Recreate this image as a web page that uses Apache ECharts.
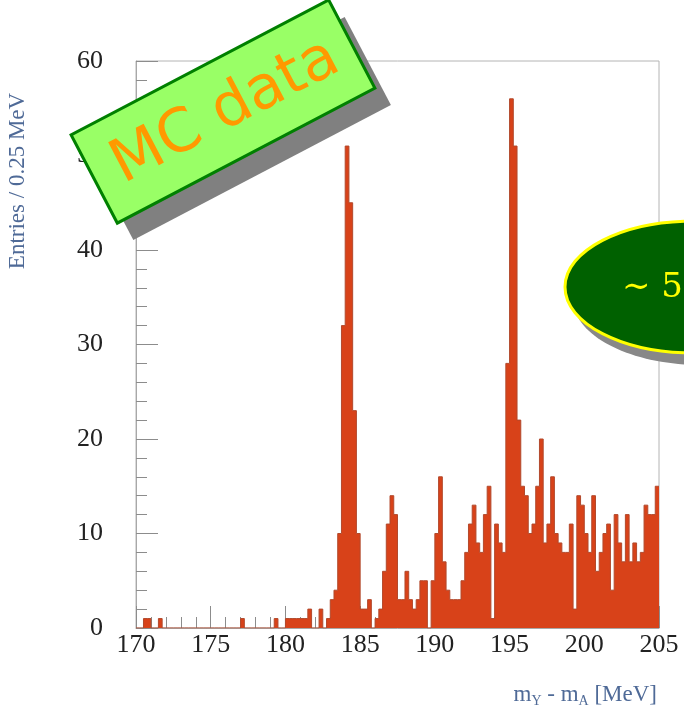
<!DOCTYPE html>
<html><head><meta charset="utf-8">
<script src="https://cdn.jsdelivr.net/npm/echarts@6/dist/echarts.min.js"></script>
<style>html,body{margin:0;padding:0;background:#fff}#c{width:684px;height:719px}</style>
</head><body><div id="c"></div>
<script>
// Histogram: m_Y - m_A, 0.25 MeV bins from 170 to 205 MeV
const binStart = 170;
const binWidth = 0.25;
const counts = [
  0,0,1,1,0,0,1,0,0,0,            // 170.00 - 172.25
  0,0,0,0,0,0,0,0,0,0,            // 172.50 - 174.75
  0,0,0,0,0,0,0,0,1,0,            // 175.00 - 177.25
  0,0,0,0,0,0,0,1,0,0,            // 177.50 - 179.75
  1,1,1,1,1,1,2,0,0,2,            // 180.00 - 182.25
  0,1,3,4,10,32,51,45,23,10,      // 182.50 - 184.75
  2,2,3,0,1,2,6,11,14,12,         // 185.00 - 187.25
  3,3,6,3,2,3,5,5,0,5,            // 187.50 - 189.75
  10,16,7,4,3,3,3,5,8,11,         // 190.00 - 192.25
  13,9,8,12,15,1,11,9,8,28,       // 192.50 - 194.75
  56,51,22,15,14,10,11,15,20,9,   // 195.00 - 197.25
  11,16,10,9,8,8,11,2,14,13,      // 197.50 - 199.75
  10,8,14,6,8,10,11,4,12,9,       // 200.00 - 202.25
  7,12,7,9,7,8,13,12,12,15        // 202.50 - 204.75
];
const xTickValues = [170,175,180,185,190,195,200,205];
const yTickValues = [0,10,20,30,40,50,60];
const yTitle = 'Entries / 0.25 MeV';
const mcLabel = 'MC data';
const ovalLabel = '\u223C 5';

// step points at the low edge of every bin plus the closing edge
const stepData = counts.map((c, i) => [binStart + i * binWidth, c]);
stepData.push([binStart + counts.length * binWidth, counts[counts.length - 1]]);

const serif = "'Liberation Serif','DejaVu Serif',serif";
const chart = echarts.init(document.getElementById('c'), null, {renderer: 'canvas'});
const deg = Math.PI / 180;
const boxShape = {x: -145.4, y: -49.8, width: 290.8, height: 99.6};

chart.setOption({
  animation: false,
  backgroundColor: '#fff',
  grid: {left: 136, right: 25, top: 61, bottom: 91, show: true, borderColor: '#b4b4b4', borderWidth: 1, backgroundColor: 'transparent'},
  xAxis: {
    type: 'value', min: xTickValues[0], max: xTickValues[xTickValues.length - 1], interval: 5,
    axisLine: {show: true, onZero: false, lineStyle: {color: '#a8a8a8', width: 1}},
    axisTick: {show: true, inside: true, length: 22, lineStyle: {color: '#8c8c8c'}},
    minorTick: {show: true, splitNumber: 5, length: 11, lineStyle: {color: '#8c8c8c'}},
    splitLine: {show: false},
    axisLabel: {fontFamily: serif, fontSize: 26, color: '#222', margin: 4}
  },
  yAxis: {
    type: 'value', min: yTickValues[0], max: yTickValues[yTickValues.length - 1], interval: 10,
    axisLine: {show: true, lineStyle: {color: '#a8a8a8', width: 1}},
    axisTick: {show: true, inside: true, length: 22, lineStyle: {color: '#8c8c8c'}},
    minorTick: {show: true, splitNumber: 5, length: 11, lineStyle: {color: '#8c8c8c'}},
    splitLine: {show: false},
    axisLabel: {fontFamily: serif, fontSize: 26, color: '#222', margin: 33}
  },
  series: [{
    type: 'line', step: 'end', data: stepData, symbol: 'none',
    lineStyle: {color: '#b2492c', width: 1},
    areaStyle: {color: '#d84219', opacity: 1, origin: 'start'},
    z: 2
  }],
  graphic: [
    // y axis title
    {type: 'text', x: 18, y: 181, rotation: Math.PI / 2, z: 10,
     style: {text: yTitle, font: "23px " + serif, fill: '#4f6a97', align: 'center', verticalAlign: 'middle'}},
    // x axis title
    {type: 'text', x: 657, y: 695, z: 10,
     style: {text: 'm{s|\u03A5} - m{s|A} [MeV]', font: "23px " + serif, fill: '#4f6a97', align: 'right', verticalAlign: 'middle',
       rich: {s: {font: "14px " + serif, fill: '#4f6a97', padding: [12, 0, 0, 0]}}}},
    // MC data box shadow (offset down-right on screen)
    {type: 'group', x: 239, y: 128.5, rotation: 27.66 * deg, z: 19,
     children: [
       {type: 'rect', z: 19, shape: boxShape, style: {fill: '#808080'}}
     ]},
    // MC data box
    {type: 'group', x: 223, y: 111.5, rotation: 27.66 * deg, z: 21,
     children: [
       {type: 'rect', z: 21, shape: boxShape,
        style: {fill: '#99ff66', stroke: '#008000', lineWidth: 3}},
       {type: 'text', x: 2, y: 2, z: 22,
        style: {text: mcLabel, font: "60px 'Comic Sans MS','DejaVu Sans',sans-serif", fill: '#ff9900', align: 'center', verticalAlign: 'middle'}}
     ]},
    // oval shadow
    {type: 'ellipse', z: 20, shape: {cx: 701, cy: 299, rx: 128, ry: 66}, style: {fill: '#888888'}},
    // oval
    {type: 'ellipse', z: 21, shape: {cx: 693, cy: 287, rx: 128, ry: 66},
     style: {fill: '#006100', stroke: '#ffff00', lineWidth: 3}},
    {type: 'text', x: 622, y: 288, z: 22,
     style: {text: ovalLabel, font: "34px 'DejaVu Serif',serif", fill: '#ffff00', align: 'left', verticalAlign: 'middle'}}
  ]
});
</script></body></html>
